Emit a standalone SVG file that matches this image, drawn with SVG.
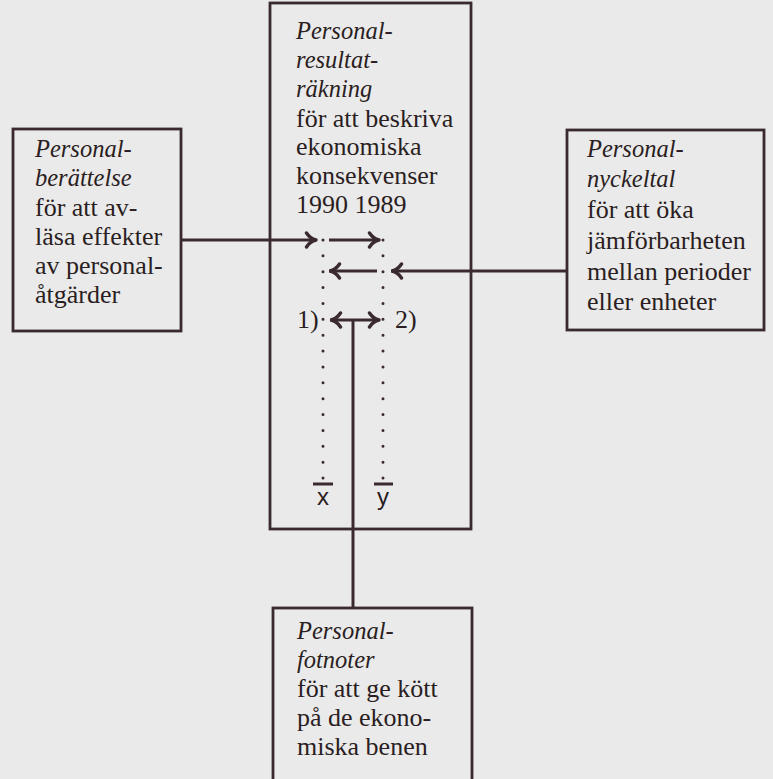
<svg xmlns="http://www.w3.org/2000/svg" width="773" height="779" viewBox="0 0 773 779">
<style>
.box{fill:none;stroke:#3a2a2f;stroke-width:2.8}
.ln{fill:none;stroke:#3a2a2f;stroke-width:3}
.ah{fill:none;stroke:#3a2a2f;stroke-width:3.4;stroke-linecap:round;stroke-linejoin:round}
.dot{fill:none;stroke:#3a2a2f;stroke-width:3;stroke-linecap:round;stroke-dasharray:0 15.87}
text{font-family:"Liberation Serif","Times New Roman",serif;font-size:26px;fill:#2a1e22}
.it{font-style:italic;font-size:24.5px}
.sans{font-family:"Liberation Sans",Arial,sans-serif;font-size:24px}
</style>
<defs>
<marker id="arr" viewBox="0 0 14 18" refX="12.5" refY="9" markerWidth="14" markerHeight="18" markerUnits="userSpaceOnUse" orient="auto-start-reverse">
<path d="M3,2 Q7,8 12.5,9 Q7,10 3,16" class="ah"/>
</marker>
</defs>
<rect width="773" height="779" fill="#eaeaea"/>
<g id="node-resultatrakning">
<rect class="box" x="270" y="3" width="201" height="526"/>
<text class="it" x="296" y="39">Personal-</text>
<text class="it" x="296" y="68">resultat-</text>
<text class="it" x="296" y="97">räkning</text>
<text x="296" y="127">för att beskriva</text>
<text x="296" y="155">ekonomiska</text>
<text x="296" y="184">konsekvenser</text>
<text x="296" y="213">1990 1989</text>
<line class="dot" x1="323" y1="240" x2="323" y2="479"/>
<line class="dot" x1="383" y1="240" x2="383" y2="479"/>
<line class="ln" x1="313" y1="484" x2="333" y2="484" stroke-width="2.4"/>
<line class="ln" x1="374" y1="484" x2="393" y2="484" stroke-width="2.4"/>
<text class="sans" x="323" y="505" text-anchor="middle">x</text>
<text class="sans" x="383" y="505" text-anchor="middle">y</text>
<text x="297" y="328">1)</text>
<text x="395" y="328">2)</text>
</g>
<g id="node-berattelse">
<rect class="box" x="13" y="129" width="168" height="202"/>
<text class="it" x="35" y="157">Personal-</text>
<text class="it" x="35" y="186">berättelse</text>
<text x="35" y="216">för att av-</text>
<text x="35" y="245">läsa effekter</text>
<text x="35" y="274">av personal-</text>
<text x="35" y="303">åtgärder</text>
</g>
<g id="node-nyckeltal">
<rect class="box" x="567" y="130" width="197" height="200"/>
<text class="it" x="587" y="157">Personal-</text>
<text class="it" x="587" y="187">nyckeltal</text>
<text x="587" y="218">för att öka</text>
<text x="587" y="249">jämförbarheten</text>
<text x="587" y="280">mellan perioder</text>
<text x="587" y="310">eller enheter</text>
</g>
<g id="node-fotnoter">
<rect class="box" x="273" y="608" width="199" height="190"/>
<text class="it" x="297" y="639">Personal-</text>
<text class="it" x="297" y="668">fotnoter</text>
<text x="297" y="697">för att ge kött</text>
<text x="297" y="726">på de ekono-</text>
<text x="297" y="755">miska benen</text>
</g>
<g id="connectors">
<line class="ln" x1="181" y1="240" x2="316" y2="240" marker-end="url(#arr)"/>
<line class="ln" x1="329" y1="240" x2="379" y2="240" marker-end="url(#arr)"/>
<line class="ln" x1="377" y1="271" x2="330" y2="271" marker-end="url(#arr)"/>
<line class="ln" x1="567" y1="271" x2="392" y2="271" marker-end="url(#arr)"/>
<line class="ln" x1="331" y1="320" x2="379" y2="320" marker-start="url(#arr)" marker-end="url(#arr)"/>
<line class="ln" x1="353" y1="320" x2="353" y2="608"/>
</g>
</svg>
